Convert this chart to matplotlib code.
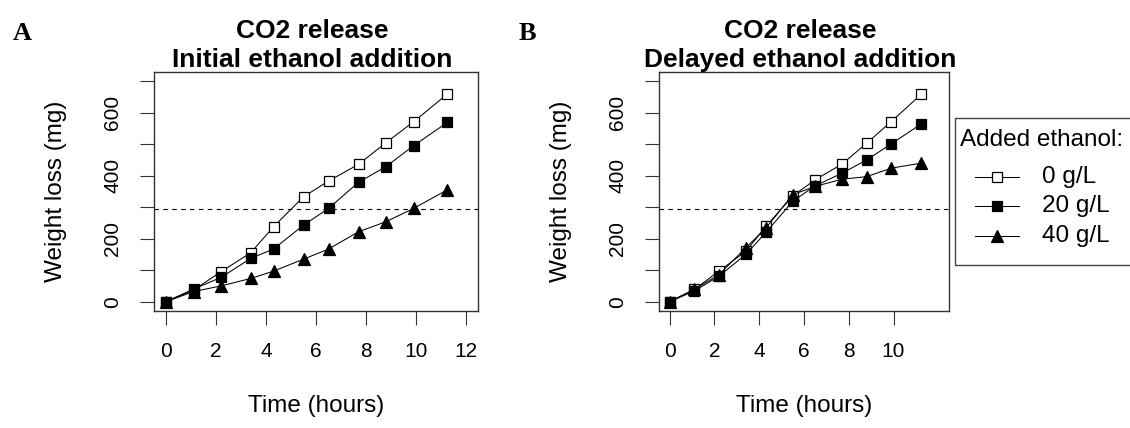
import matplotlib
matplotlib.use("Agg")
import matplotlib.pyplot as plt
from matplotlib.lines import Line2D
from matplotlib.patches import Rectangle

plt.rcParams['font.family'] = ['Liberation Sans', 'DejaVu Sans']

# time points (hours)
times = [0, 1.1, 2.2, 3.4, 4.3, 5.5, 6.5, 7.7, 8.8, 9.9, 11.25]

# panel A: initial ethanol addition, weight loss (mg)
a_0 = [0, 37, 95, 156, 238, 333, 383, 436, 505, 571, 659]
a_20 = [0, 40, 77, 138, 167, 243, 296, 379, 429, 495, 569]
a_40 = [0, 32, 50, 74, 97, 135, 167, 222, 254, 296, 355]

# panel B: delayed ethanol addition
b_0 = [0, 39, 97, 160, 239, 336, 387, 437, 503, 572, 659]
b_20 = [0, 34, 81, 150, 220, 319, 368, 408, 450, 501, 565]
b_40 = [0, 39, 86, 171, 234, 340, 366, 389, 397, 424, 440]

series_labels = ['0 g/L', '20 g/L', '40 g/L']
threshold = 293

W, H = 1130, 428
fig = plt.figure(figsize=(W / 100, H / 100), dpi=100)


def fx(px):
    return px / W


def fy(py):
    return 1 - py / H


styles = [
    dict(marker='s', mfc='white', mec='black', ms=7.5, mew=0.9),
    dict(marker='s', mfc='black', mec='black', ms=7.5, mew=0.9),
    dict(marker='^', mfc='black', mec='black', ms=8.5, mew=0.9),
]

ax_top, ax_bot = 72.4, 310.5
axA = fig.add_axes([fx(154), fy(ax_bot), fx(478) - fx(154), (ax_bot - ax_top) / H])
axB = fig.add_axes([fx(659), fy(ax_bot), fx(949) - fx(659), (ax_bot - ax_top) / H])

panels = [
    (axA, [a_0, a_20, a_40], list(range(0, 13, 2)), 'Initial ethanol addition'),
    (axB, [b_0, b_20, b_40], list(range(0, 11, 2)), 'Delayed ethanol addition'),
]

for ax, data, xt, subtitle in panels:
    for vals, st in zip(data, styles):
        ax.plot(times, vals, color='black', lw=0.75, **st)
    ax.axhline(threshold, color='black', lw=0.8, ls=(0, (4, 4)))
    ax.set_xlim(-0.48, 12.48)
    ax.set_ylim(-28, 728)
    ax.set_xticks(xt)
    ax.set_xticklabels([str(t) for t in xt])
    yt = list(range(0, 701, 100))
    ax.set_yticks(yt)
    ax.set_yticklabels([str(v) if v % 200 == 0 else '' for v in yt],
                       rotation=90, va='center')
    ax.tick_params(length=10, width=0.8, color='#333333', pad=13,
                   labelsize=15)
    for s in ax.spines.values():
        s.set_color('#333333')
        s.set_linewidth(1.0)
    ax.set_xlabel('Time (hours)', fontsize=17.5, labelpad=24)
    ax.set_ylabel('Weight loss (mg)', fontsize=17.5, labelpad=26)
    cx = (ax.get_position().x0 + ax.get_position().x1) / 2 - fx(4)
    fig.text(cx, fy(38), 'CO2 release', ha='center', va='baseline',
             fontsize=19, fontweight='bold')
    fig.text(cx, fy(67), subtitle, ha='center', va='baseline',
             fontsize=19, fontweight='bold')

# panel letters
for letter, px in [('A', 22), ('B', 527)]:
    fig.text(fx(px), fy(33), letter, ha='center', va='center',
             fontsize=19, fontweight='bold', family='Liberation Serif')

# legend box (runs past the right edge, as in the original)
fig.add_artist(Rectangle((fx(955), fy(265)), fx(1140) - fx(955), fy(118) - fy(265),
                         transform=fig.transFigure, fill=False,
                         edgecolor='#444444', lw=1.0))
fig.text(fx(960), fy(140), 'Added ethanol:', ha='left', va='center', fontsize=17.5)
for i, (lab, st) in enumerate(zip(series_labels, styles)):
    y = fy(177.3 + i * 29.2)
    fig.add_artist(Line2D([fx(975), fx(1019)], [y, y], transform=fig.transFigure,
                          color='black', lw=0.75))
    fig.add_artist(Line2D([fx(997)], [y], transform=fig.transFigure,
                          ls='none', **st))
    fig.text(fx(1042), y, lab, ha='left', va='center', fontsize=17.5)

fig.savefig('out.png', dpi=100)
